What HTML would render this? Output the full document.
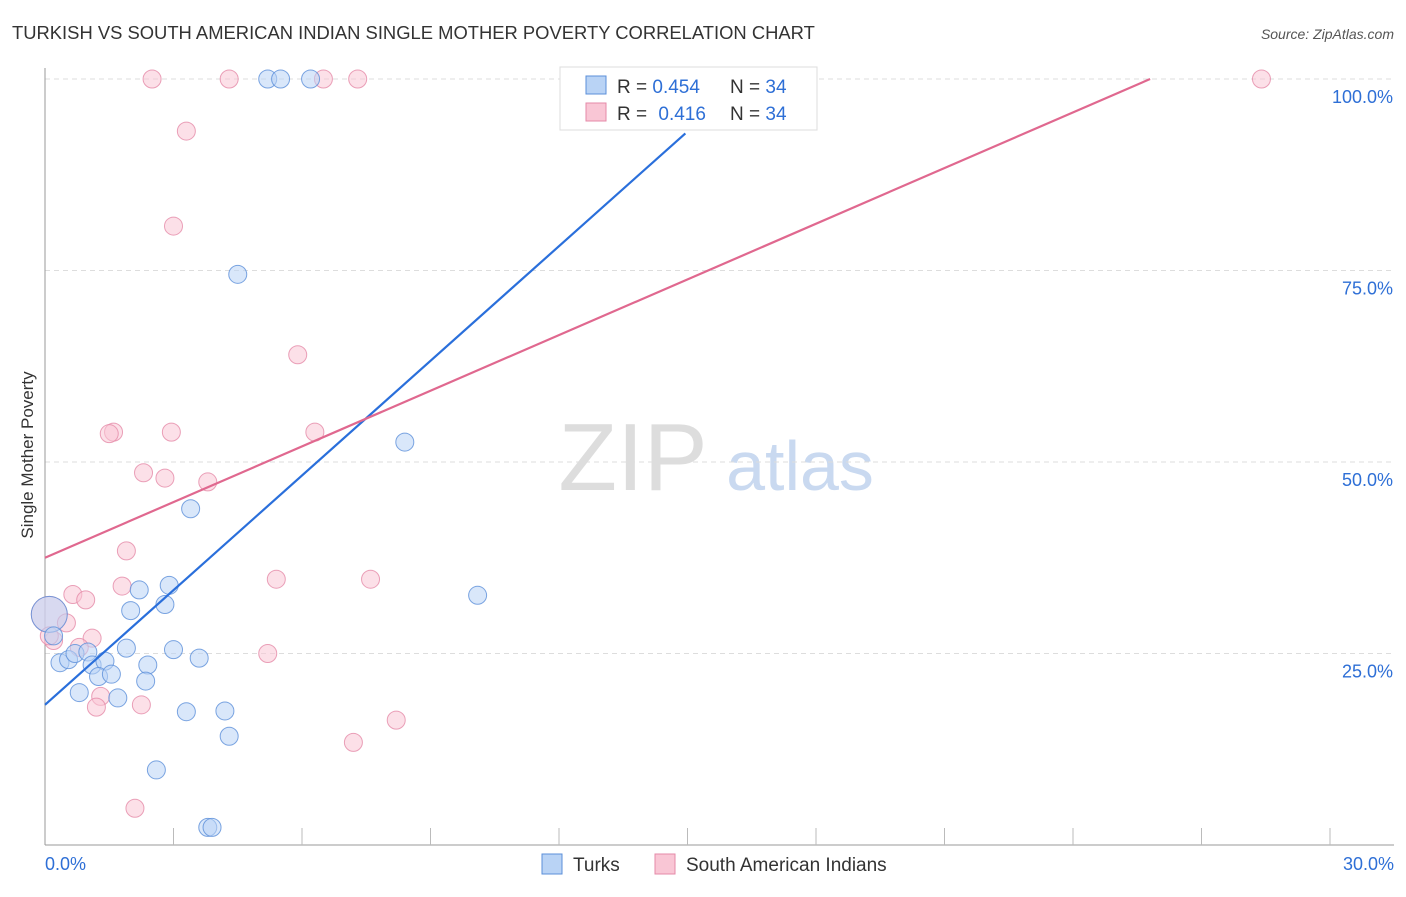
<!DOCTYPE html>
<html><head><meta charset="utf-8"><style>
body{margin:0;background:#fff;font-family:"Liberation Sans",sans-serif}
svg text{font-family:"Liberation Sans",sans-serif}
</style></head><body>
<svg id="c" width="1406" height="892" xmlns="http://www.w3.org/2000/svg">
<text x="12" y="39" font-size="18.4" fill="#333">TURKISH VS SOUTH AMERICAN INDIAN SINGLE MOTHER POVERTY CORRELATION CHART</text>
<text x="1394" y="39" font-size="14" fill="#555" text-anchor="end" font-style="italic">Source: ZipAtlas.com</text>
<text x="33" y="455" font-size="17" fill="#333" text-anchor="middle" transform="rotate(-90 33 455)">Single Mother Poverty</text>
<g><text x="633" y="490" font-size="96" fill="#ddd" text-anchor="middle" font-family="Liberation Serif">ZIP</text><text x="800" y="490" font-size="70" fill="#c9d9f0" text-anchor="middle">atlas</text></g>
<g id="grid"></g><g id="axes"></g><g id="pts"></g><g id="lines"></g>
<g>
<rect x="560" y="67" width="257" height="63" fill="#fff" stroke="#ddd"/>
<rect x="586" y="76" width="20" height="18" fill="#b9d3f5" stroke="#5b8fd9"/>
<rect x="586" y="103" width="20" height="18" fill="#f9c6d5" stroke="#e58aa8"/>
<text x="617" y="93" font-size="19" fill="#333">R = <tspan fill="#2e6fd6">0.454</tspan></text>
<text x="730" y="93" font-size="19" fill="#333">N = <tspan fill="#2e6fd6">34</tspan></text>
<text x="617" y="120" font-size="19" fill="#333">R = <tspan fill="#2e6fd6" dx="6">0.416</tspan></text>
<text x="730" y="120" font-size="19" fill="#333">N = <tspan fill="#2e6fd6">34</tspan></text>
</g>
<g>
<rect x="542" y="854" width="20" height="20" fill="#b9d3f5" stroke="#5b8fd9"/>
<text x="573" y="871" font-size="19" fill="#333">Turks</text>
<rect x="655" y="854" width="20" height="20" fill="#f9c6d5" stroke="#e58aa8"/>
<text x="686" y="871" font-size="19" fill="#333">South American Indians</text>
</g>
</svg>
<script>
const turksX=[5.2,5.5,6.2,4.5,8.4,3.4,10.1,2.2,2.9,2.0,2.8,0.1,0.2,0.35,0.55,0.7,1.0,1.1,1.4,1.25,1.55,1.9,2.4,2.35,3.0,3.6,0.8,1.7,3.3,4.2,4.3,2.6,3.8,3.9];
const turksY=[100,100,100,74.5,52.6,43.9,32.6,33.3,33.9,30.6,31.4,30.1,27.3,23.8,24.2,25.0,25.2,23.5,24.0,22.0,22.3,25.7,23.5,21.4,25.5,24.4,19.9,19.2,17.4,17.5,14.2,9.8,2.3,2.3];
const saiX=[2.5,4.3,6.5,7.3,28.4,3.3,3.0,5.9,1.6,1.5,2.95,6.3,2.3,2.8,3.8,1.9,5.4,7.6,1.8,0.65,0.95,0.1,0.5,0.2,0.1,1.1,0.8,5.2,1.3,1.2,2.25,8.2,7.2,2.1];
const saiY=[100,100,100,100,100,93.2,80.8,64.0,53.9,53.7,53.9,53.9,48.6,47.9,47.4,38.4,34.7,34.7,33.8,32.7,32.0,30.1,29.0,26.7,27.3,27.0,25.8,25.0,19.4,18.0,18.3,16.3,13.4,4.8];
const yTicks=[25,50,75,100];
const xTickLabels=["0.0%","30.0%"];
const xs=v=>45+v*(1285/30), ys=v=>845-v*7.66;
const NS="http://www.w3.org/2000/svg";
function mk(p,t,a){const e=document.createElementNS(NS,t);for(const k in a)e.setAttribute(k,a[k]);document.getElementById(p).appendChild(e);return e;}
yTicks.forEach(t=>{
 const l=mk('grid','line',{x1:45,x2:1394,y1:ys(t),y2:ys(t),stroke:'#ddd','stroke-dasharray':'5,4'});
 
 
 const tx=mk('grid','text',{x:1393,y:ys(t)+24,'font-size':18,fill:'#2e6fd6','text-anchor':'end'});tx.textContent=t.toFixed(1)+'%';
 
 
});
const ax=mk('axes','line',{x1:45,x2:45,y1:68,y2:845,stroke:'#999'});


const bx=mk('axes','line',{x1:45,x2:1394,y1:845,y2:845,stroke:'#999'});


for(let i=1;i<=10;i++){const t=mk('axes','line',{x1:xs(i*3),x2:xs(i*3),y1:828,y2:845,stroke:'#bbb'});
 
 }
[[0,'start',45],[30,'end',1394]].forEach((d,i)=>{const t=mk('axes','text',{x:d[2],y:870,'font-size':18,fill:'#2e6fd6','text-anchor':d[1]});t.textContent=xTickLabels[i];
 
 });
function pts(X,Y,f,s,n){X.forEach((x,i)=>{const big=(x<0.2&&Y[i]>29.5&&Y[i]<31);const c=mk('pts','circle',{cx:xs(x),cy:ys(Y[i]),r:big?18:9,fill:f,'fill-opacity':0.55,stroke:s,'stroke-opacity':0.8});
 
 });}
pts(saiX,saiY,'#f9c6d5','#e58aa8','point-south-american-indian');
pts(turksX,turksY,'#b9d3f5','#5b8fd9','point-turk');
const bl=mk('lines','line',{x1:xs(0),y1:ys(18.3),x2:xs(14.95),y2:ys(92.9),stroke:'#2a6fdb','stroke-width':2.2});


const pl=mk('lines','line',{x1:xs(0),y1:ys(37.5),x2:xs(25.8),y2:ys(100),stroke:'#e0688f','stroke-width':2.2});


</script>
</body></html>
